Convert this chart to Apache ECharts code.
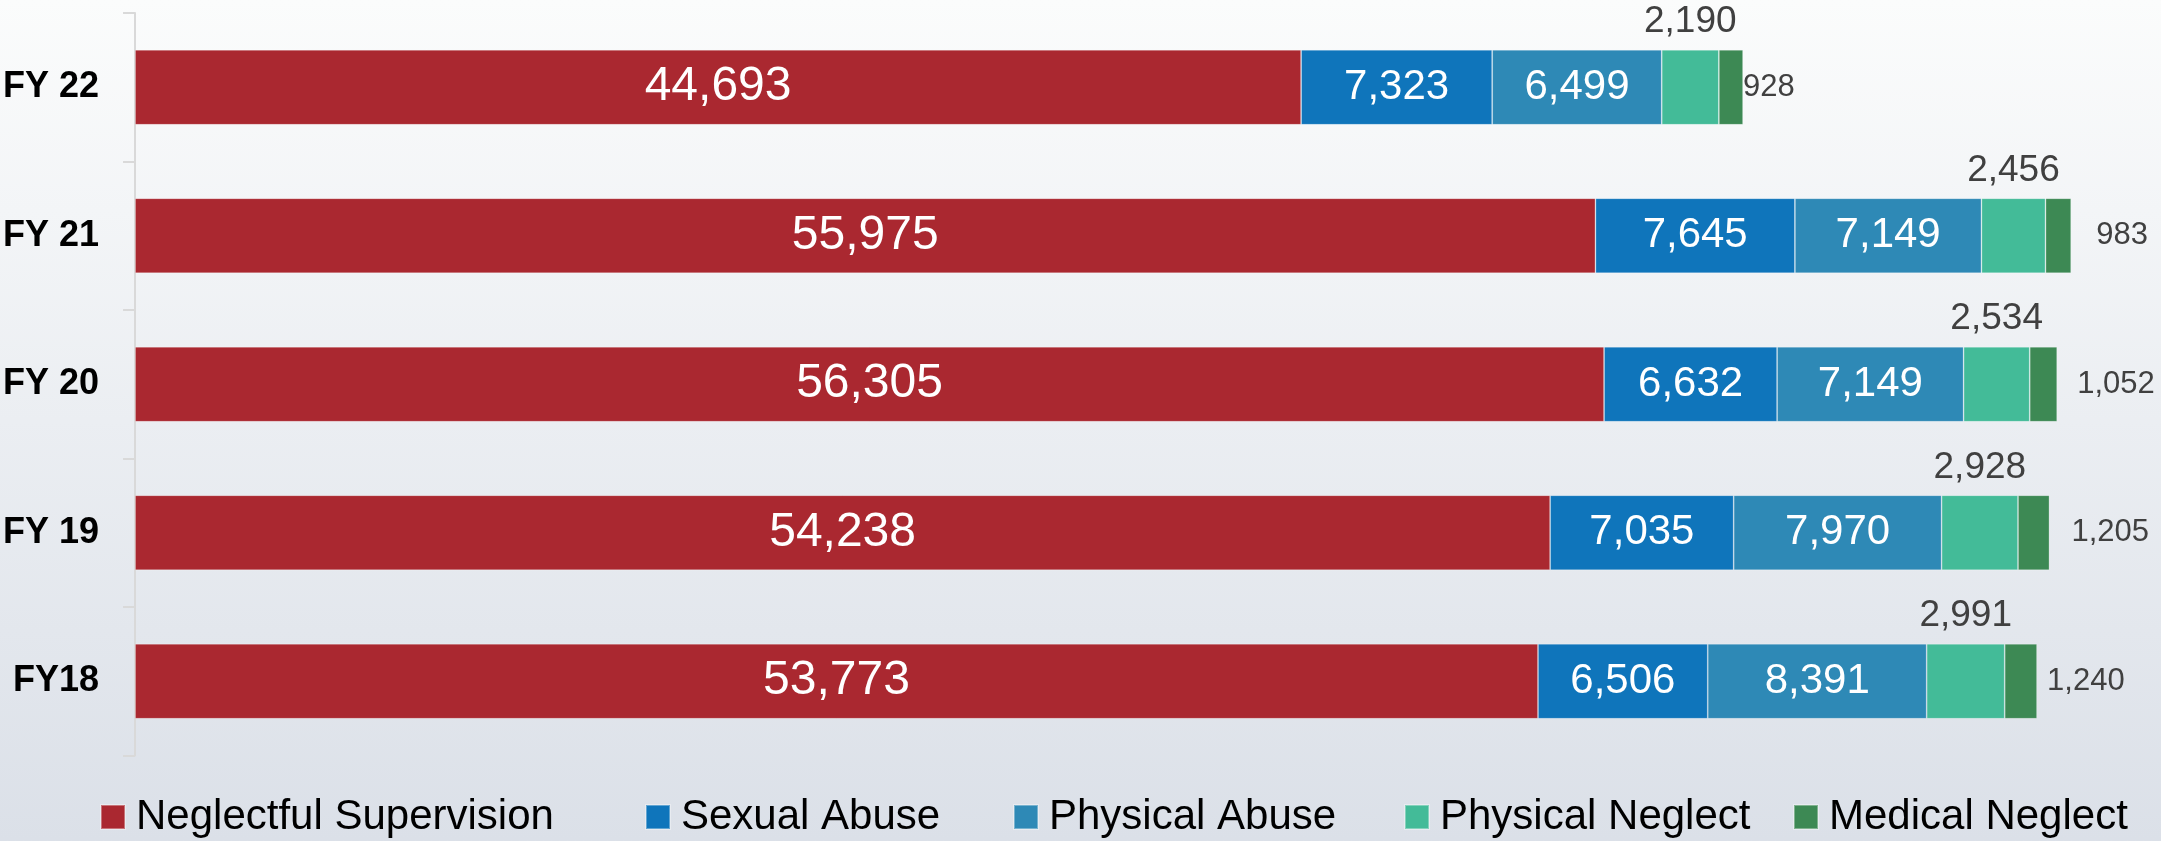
<!DOCTYPE html>
<html>
<head>
<meta charset="utf-8">
<script src="https://cdn.jsdelivr.net/npm/echarts@6/dist/echarts.min.js"></script>
<style>
  html, body { margin: 0; padding: 0; }
  #chart { width: 2161px; height: 841px; }
</style>
</head>
<body>
<div id="chart"></div>
<script>
// ---- Data ----
const categories = ['FY 22', 'FY 21', 'FY 20', 'FY 19', 'FY18'];
const seriesNames = ['Neglectful Supervision', 'Sexual Abuse', 'Physical Abuse', 'Physical Neglect', 'Medical Neglect'];
const neglectfulSupervision = [44693, 55975, 56305, 54238, 53773];
const sexualAbuse = [7323, 7645, 6632, 7035, 6506];
const physicalAbuse = [6499, 7149, 7149, 7970, 8391];
const physicalNeglect = [2190, 2456, 2534, 2928, 2991];
const medicalNeglect = [928, 983, 1052, 1205, 1240];

// ---- Styles ----
const colors = ['#aa2830', '#0f75bb', '#2e89b6', '#43bb98', '#3d8954'];
const medLabelGap = [0, 25, 20, 22, 10];
const FONT = "'Liberation Sans', Arial, Helvetica, sans-serif";
const fmt = v => Number(v).toLocaleString('en-US');

const chart = echarts.init(document.getElementById('chart'), null, { renderer: 'canvas' });

const insideLabel = size => ({
  show: true, position: 'inside', color: '#ffffff', fontFamily: FONT, fontSize: size,
  formatter: p => fmt(p.value)
});

const seriesValues = [neglectfulSupervision, sexualAbuse, physicalAbuse, physicalNeglect, medicalNeglect];

const series = seriesValues.map((vals, i) => {
  const s = {
    name: seriesNames[i], type: 'bar', stack: 'total', barWidth: 75,
    itemStyle: { color: colors[i], borderColor: 'rgba(255,255,255,0.35)', borderWidth: 0.8 },
    emphasis: { disabled: true },
    data: vals.map(v => ({ value: v }))
  };
  if (i === 0) s.label = insideLabel(48);
  else if (i < 3) s.label = insideLabel(42);
  else if (i === 3) s.label = {
    show: true, position: 'top', distance: 9, color: '#404040', fontFamily: FONT, fontSize: 37,
    formatter: p => fmt(p.value)
  };
  else {
    s.data = vals.map((v, k) => ({
      value: v,
      label: { distance: medLabelGap[k] }
    }));
    s.label = {
      show: true, position: 'right', color: '#404040', fontFamily: FONT, fontSize: 31,
      formatter: p => fmt(p.value)
    };
  }
  return s;
});

const legendLeft = [100, 645, 1013, 1404, 1793];
const legends = seriesNames.map((n, i) => ({
  show: true, left: legendLeft[i], top: 796, padding: 0, orient: 'horizontal',
  itemWidth: 24, itemHeight: 24, icon: 'rect', selectedMode: false,
  data: [n],
  textStyle: { fontFamily: FONT, fontSize: 42, color: '#000000', padding: [0, 0, 0, 6] }
}));

chart.setOption({
  animation: false,
  backgroundColor: new echarts.graphic.LinearGradient(0, 0, 0, 1, [
    { offset: 0, color: '#fbfcfc' },
    { offset: 1, color: '#dbe0e8' }
  ]),
  color: colors,
  legend: legends,
  grid: { left: 132, top: 13, width: 2012, height: 742.5, containLabel: false },
  xAxis: {
    type: 'value', min: 0, max: 77000, show: false, splitLine: { show: false }
  },
  yAxis: {
    type: 'category', data: categories, inverse: true,
    axisLine: { show: true, lineStyle: { color: '#d9d9d9', width: 2 } },
    axisTick: { show: true, length: 12, lineStyle: { color: '#d9d9d9', width: 2 } },
    axisLabel: { color: '#000000', fontFamily: FONT, fontWeight: 'bold', fontSize: 36, margin: 36 }
  },
  series: series
});
</script>
</body>
</html>
